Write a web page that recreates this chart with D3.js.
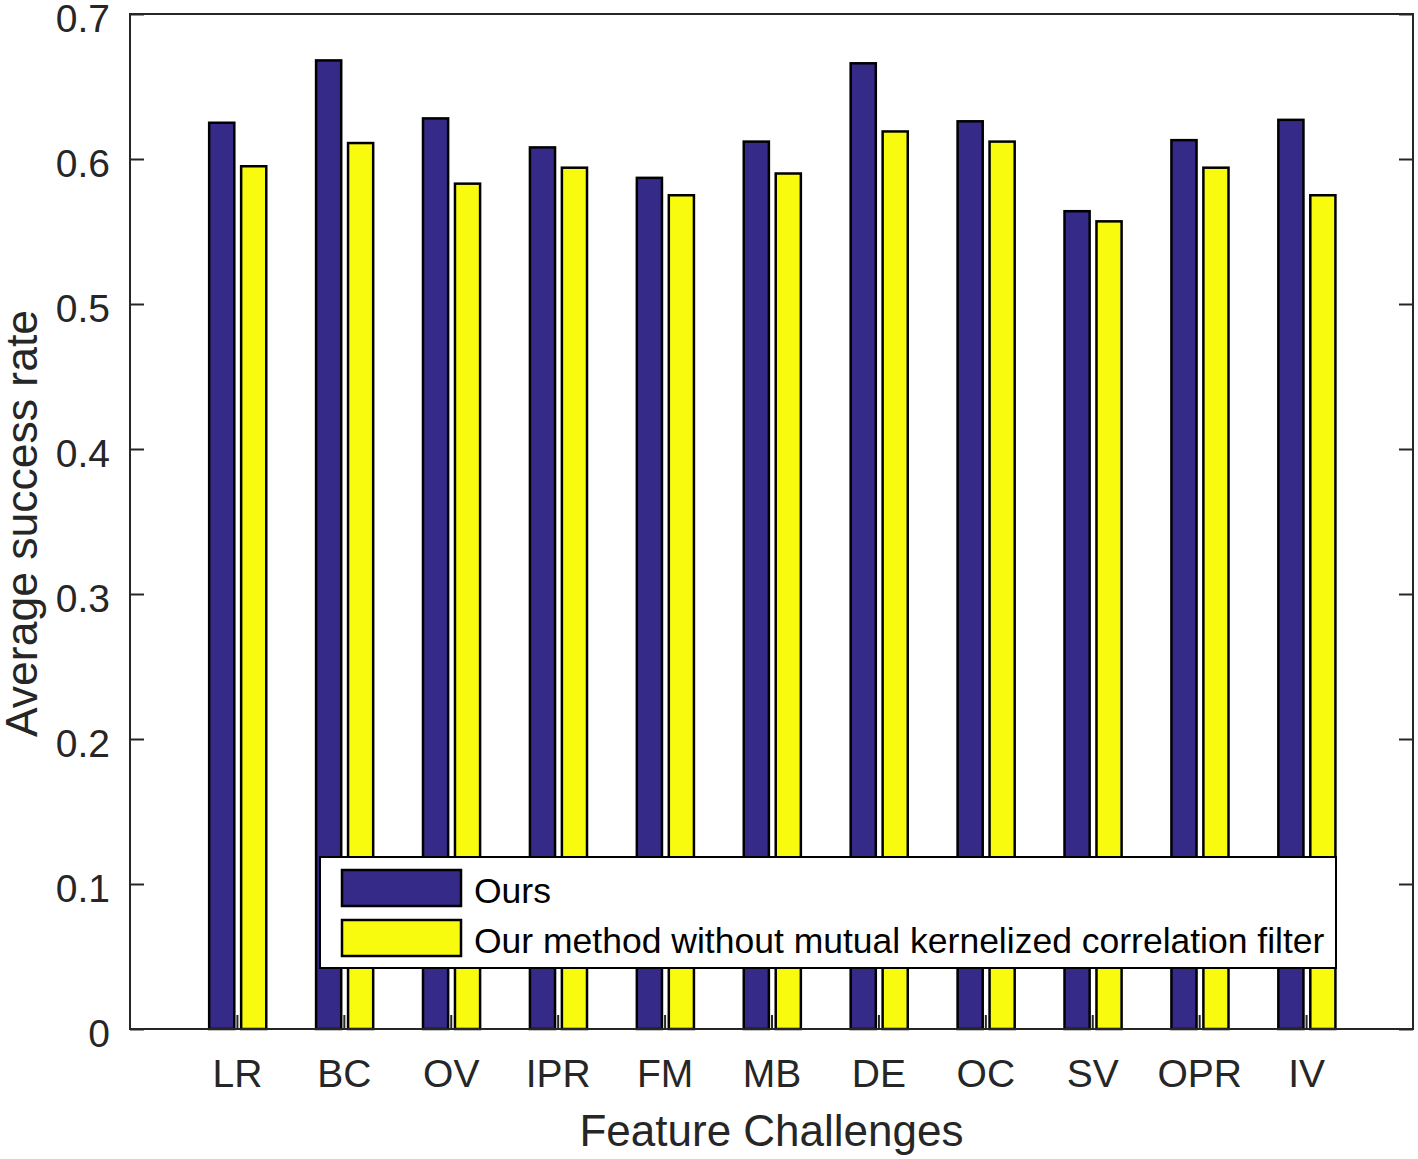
<!DOCTYPE html>
<html>
<head>
<meta charset="utf-8">
<script src="https://cdn.jsdelivr.net/npm/d3@7"></script>
<style>
  html, body { margin: 0; padding: 0; background: #fff; }
  svg { display: block; font-family: "Liberation Sans", Arial, Helvetica, sans-serif; }
</style>
</head>
<body>
<svg id="chart" width="1418" height="1159"></svg>
<script>
// ---- data ----
const categories = ["LR", "BC", "OV", "IPR", "FM", "MB", "DE", "OC", "SV", "OPR", "IV"];
const oursValues = [0.625, 0.668, 0.628, 0.608, 0.587, 0.612, 0.666, 0.626, 0.564, 0.613, 0.627];
const withoutMkcfValues = [0.595, 0.611, 0.583, 0.594, 0.575, 0.590, 0.619, 0.612, 0.557, 0.594, 0.575];
const seriesNames = ["Ours", "Our method without mutual kernelized correlation filter"];
const yTickValues = [0, 0.1, 0.2, 0.3, 0.4, 0.5, 0.6, 0.7];
const yTickLabels = ["0", "0.1", "0.2", "0.3", "0.4", "0.5", "0.6", "0.7"];
const xLabel = "Feature Challenges";
const yLabel = "Average success rate";

// ---- layout ----
const svg = d3.select("#chart");
const L = 130, R = 1413, T = 14, B = 1029;
const axisColor = "#262626";
const colors = ["#352A87", "#F9FB0E"];

const x = d3.scaleLinear().domain([0, categories.length + 1]).range([L, R]);
const y = d3.scaleLinear().domain([0, 0.7]).range([B, T]);
const unit = x(1) - x(0);
const barW = 0.235 * unit;
const offsets = [-0.142, 0.157];

const series = [oursValues, withoutMkcfValues];

// bars
series.forEach((vals, s) => {
  svg.append("g").selectAll("rect")
    .data(vals)
    .join("rect")
    .attr("x", (d, i) => x(i + 1) + offsets[s] * unit - barW / 2)
    .attr("width", barW)
    .attr("y", d => y(d))
    .attr("height", d => y(0) - y(d))
    .attr("fill", colors[s])
    .attr("stroke", "#000")
    .attr("stroke-width", 2.5);
});

// axes
const yTickFmt = (d) => yTickLabels[yTickValues.indexOf(d)];
const gl = svg.append("g").attr("transform", `translate(${L},0)`)
  .call(d3.axisLeft(y).tickValues(yTickValues).tickFormat(yTickFmt).tickSize(-14).tickPadding(20));
const gr = svg.append("g").attr("transform", `translate(${R},0)`)
  .call(d3.axisRight(y).tickValues(yTickValues).tickFormat("").tickSize(-14));
const xTickVals = categories.map((c, i) => i + 1);
const gb = svg.append("g").attr("transform", `translate(0,${B})`)
  .call(d3.axisBottom(x).tickValues(xTickVals).tickFormat(d => categories[d - 1]).tickSize(-14).tickPadding(30));

[gl, gr, gb].forEach(g => {
  g.select(".domain").remove();
  g.selectAll(".tick line").attr("stroke", axisColor).attr("stroke-width", 2);
  g.selectAll(".tick text").attr("fill", axisColor).style("font-size", "39px")
    .style("font-family", '"Liberation Sans", Arial, Helvetica, sans-serif');
});
gl.selectAll(".tick text").attr("dy", "0.45em");

svg.append("rect")
  .attr("x", L).attr("y", T).attr("width", R - L).attr("height", B - T)
  .attr("fill", "none").attr("stroke", axisColor).attr("stroke-width", 2);

// axis labels
svg.append("text")
  .attr("x", (L + R) / 2).attr("y", 1146)
  .attr("text-anchor", "middle")
  .attr("fill", axisColor)
  .style("font-size", "44px")
  .text(xLabel);

svg.append("text")
  .attr("transform", `translate(37,${(T + B) / 2 + 2}) rotate(-90)`)
  .attr("text-anchor", "middle")
  .attr("fill", axisColor)
  .style("font-size", "44.5px")
  .text(yLabel);

// legend
const leg = svg.append("g");
leg.append("rect")
  .attr("x", 320).attr("y", 857).attr("width", 1016).attr("height", 111)
  .attr("fill", "#fff").attr("stroke", "#000").attr("stroke-width", 2);
seriesNames.forEach((name, i) => {
  const cy = 888 + i * 50;
  leg.append("rect")
    .attr("x", 342).attr("y", cy - 18).attr("width", 119).attr("height", 36)
    .attr("fill", colors[i]).attr("stroke", "#000").attr("stroke-width", 2.5);
  leg.append("text")
    .attr("x", 474).attr("y", cy + 15)
    .attr("fill", "#000")
    .style("font-size", "35.5px")
    .text(name);
});
</script>
</body>
</html>
